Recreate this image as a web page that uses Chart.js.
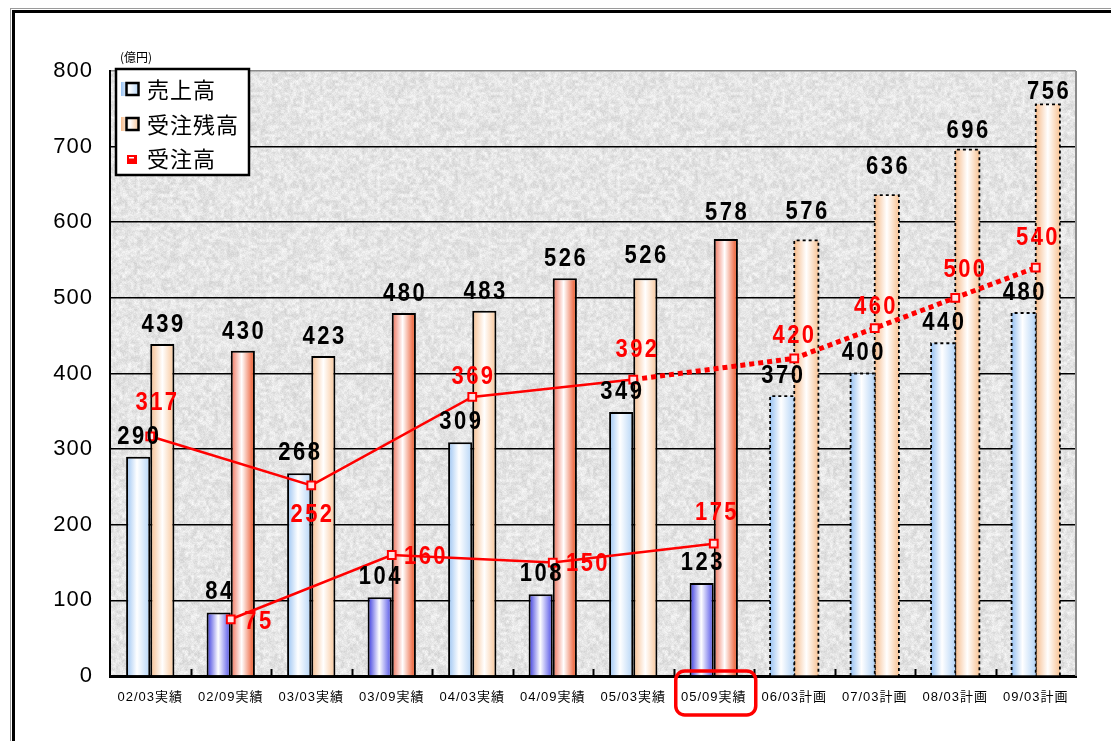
<!DOCTYPE html>
<html>
<head>
<meta charset="utf-8">
<script src="https://cdn.jsdelivr.net/npm/chart.js@4.4.0/dist/chart.umd.min.js"></script>
<style>
  html, body { margin: 0; padding: 0; background: #fff; overflow: hidden; }
  #wrap { width: 1111px; height: 741px; position: relative; }
</style>
</head>
<body>
<div id="wrap"><canvas id="c" width="1111" height="741"></canvas></div>
<script>
// ---- data (億円) ----
const periods = ['02/03実績','02/09実績','03/03実績','03/09実績','04/03実績','04/09実績',
                 '05/03実績','05/09実績','06/03計画','07/03計画','08/03計画','09/03計画'];
const sales   = [290, 84, 268, 104, 309, 108, 349, 123, 370, 400, 440, 480];   // 売上高
const backlog = [439, 430, 423, 480, 483, 526, 526, 578, 576, 636, 696, 756];  // 受注残高
// 受注高: March closings (incl. plan) and September closings as two lines
const ordersMarch = [317, null, 252, null, 369, null, 392, null, 420, 460, 500, 540];
const ordersSept  = [null, 75, null, 160, null, 150, null, 175, null, null, null, null];
const yTickValues = [0, 100, 200, 300, 400, 500, 600, 700, 800];
const unitLabel = '(億円)';
const legendNames = ['売上高', '受注残高', '受注高'];

// ---- style settings ----
const firstPlanIndex = 8;       // plan periods start here (dotted outlines)
const highlightIndex = 7;       // period label framed in red
const FONT = "'Liberation Sans','Noto Sans CJK JP',Arial,sans-serif";
const CJK = "'Noto Sans CJK JP','Liberation Sans',sans-serif";
// label placement for 受注高 values: [dx, dy] relative to the point
const orderLabelShift = [[6,-33],[27,3],[0,30],[33,2],[0,-20],[34,1],[3,-30],[2,-31],[-1,-22],[0,-21],[9,-28],[1,-30]];
// extra lift of some 受注残高 labels
const backlogLabelLift = [0,0,0,0,0,0,3,7,9,9,0,-7];

const palette = {
  salesMar:  [['#98c2f2',0],['#ffffff',0.45],['#b4d4f6',1]],
  salesSep:  [['#3232dc',0],['#ffffff',0.48],['#4a4ae6',1]],
  backMar:   [['#f6bc8c',0],['#ffffff',0.5],['#f8c496',1]],
  backSep:   [['#ee6e56',0],['#ffffff',0.45],['#f07a58',0.85],['#e85a20',1]]
};

function isPlan(i) { return i >= firstPlanIndex; }
function isSept(i) { return i < firstPlanIndex && i % 2 === 1; }

function barGradient(c, kind) {
  const chart = c.chart, xs = chart.scales.x;
  if (!xs || !chart.chartArea) return '#ccc';
  const center = xs.getPixelForValue(c.dataIndex);
  const catW = xs.width / periods.length;
  const barW = catW * 0.6 / 2;
  const left = kind === 'sales' ? center - barW : center;
  const g = chart.ctx.createLinearGradient(left, 0, left + barW, 0);
  let stops;
  if (kind === 'sales') stops = isSept(c.dataIndex) ? palette.salesSep : palette.salesMar;
  else stops = isSept(c.dataIndex) ? palette.backSep : palette.backMar;
  stops.forEach(s => g.addColorStop(s[1], s[0]));
  return g;
}

// granite-like backdrop of the plot area
function makeTexture() {
  const size = 240, cell = 3, n = size / cell;
  const cv = document.createElement('canvas');
  cv.width = cv.height = size;
  const g = cv.getContext('2d');
  const img = g.createImageData(size, size);
  let seed = 987654321;
  const rnd = () => { seed = (seed * 1103515245 + 12345) & 0x7fffffff; return seed / 0x7fffffff; };
  const coarse = [];
  for (let i = 0; i < n * n; i++) coarse.push(rnd());
  const at = (cx, cy) => coarse[((cy + n) % n) * n + ((cx + n) % n)];
  const sm = t => t * t * (3 - 2 * t);
  for (let y = 0; y < size; y++) {
    for (let x = 0; x < size; x++) {
      const fx = x / cell, fy = y / cell;
      const x0 = Math.floor(fx), y0 = Math.floor(fy);
      const tx = sm(fx - x0), ty = sm(fy - y0);
      const a = at(x0, y0), b = at(x0 + 1, y0), c = at(x0, y0 + 1), d = at(x0 + 1, y0 + 1);
      const v = (a * (1 - tx) + b * tx) * (1 - ty) + (c * (1 - tx) + d * tx) * ty;
      let lum = 229 + (v - 0.5) * 28 + (rnd() - 0.5) * 16;
      lum = Math.max(190, Math.min(252, lum));
      const k = (y * size + x) * 4;
      img.data[k] = img.data[k + 1] = img.data[k + 2] = lum;
      img.data[k + 3] = 255;
    }
  }
  g.putImageData(img, 0, 0);
  return cv;
}
const texture = makeTexture();

function drawValue(ctx, text, x, y, color, sizePx, spacing, sy) {
  ctx.save();
  ctx.font = 'bold ' + sizePx + 'px ' + FONT;
  ctx.letterSpacing = spacing + 'px';
  ctx.fillStyle = color;
  ctx.textAlign = 'center';
  ctx.textBaseline = 'middle';
  ctx.translate(x, y);
  ctx.scale(1, sy);
  ctx.fillText(text, spacing / 2, 0);
  ctx.restore();
}

const framePlugin = {
  id: 'frame',
  beforeDraw(chart) {
    const ctx = chart.ctx, a = chart.chartArea;
    ctx.save();
    ctx.fillStyle = '#fff';
    ctx.fillRect(0, 0, chart.width, chart.height);
    // outer frame (top and left visible)
    ctx.strokeStyle = '#9a9a9a'; ctx.lineWidth = 1;
    ctx.strokeRect(10.5, 8.5, 1200, 900);
    ctx.strokeStyle = '#000'; ctx.lineWidth = 3;
    ctx.strokeRect(13.5, 11.5, 1200, 900);
    // plot backdrop
    ctx.fillStyle = ctx.createPattern(texture, 'repeat');
    ctx.fillRect(a.left, a.top, a.right - a.left, a.bottom - a.top);
    ctx.restore();
    ctx.letterSpacing = '1px';
  },
  afterDatasetDraw(chart, args) {
    // dotted outlines of plan bars
    const meta = args.meta;
    if (meta.type !== 'bar') return;
    const ctx = chart.ctx, bottom = chart.chartArea.bottom;
    ctx.save();
    ctx.strokeStyle = '#000';
    ctx.lineWidth = 1.8;
    ctx.setLineDash([3, 3]);
    meta.data.forEach((el, i) => {
      if (!isPlan(i)) return;
      const l = el.x - el.width / 2, r = el.x + el.width / 2, t = el.y;
      ctx.beginPath();
      ctx.moveTo(l, bottom); ctx.lineTo(l, t); ctx.lineTo(r, t); ctx.lineTo(r, bottom);
      ctx.stroke();
    });
    ctx.restore();
  },
  afterDatasetsDraw(chart) {
    const ctx = chart.ctx, a = chart.chartArea, xs = chart.scales.x;
    // plot border right side
    ctx.save();
    ctx.strokeStyle = '#8a8a8a'; ctx.lineWidth = 2;
    ctx.beginPath(); ctx.moveTo(a.right, a.top); ctx.lineTo(a.right, a.bottom); ctx.stroke();
    // inward ticks between periods
    ctx.strokeStyle = '#000'; ctx.lineWidth = 2;
    const catW = xs.width / periods.length;
    for (let k = 1; k < periods.length; k++) {
      const x = Math.round(xs.left + catW * k) + 0.5;
      ctx.beginPath(); ctx.moveTo(x, a.bottom - 7); ctx.lineTo(x, a.bottom); ctx.stroke();
    }
    ctx.restore();

    // value labels
    chart.data.datasets.forEach((ds, di) => {
      const meta = chart.getDatasetMeta(di);
      meta.data.forEach((el, i) => {
        const v = ds.data[i];
        if (v === null || v === undefined) return;
        if (meta.type === 'bar') {
          const lift = ds.label === legendNames[0] ? 20 : 19 + backlogLabelLift[i];
          drawValue(ctx, String(v), el.x, el.y - lift, '#000', 22, 2.5, 1.15);
        }
      });
    });
    chart.data.datasets.forEach((ds, di) => {
      const meta = chart.getDatasetMeta(di);
      if (meta.type !== 'line') return;
      meta.data.forEach((el, i) => {
        const v = ds.data[i];
        if (v === null || v === undefined) return;
        const s = orderLabelShift[i];
        drawValue(ctx, String(v), el.x + s[0], el.y + s[1], '#ff0000', 22, 2.5, 1.15);
      });
    });
  },
  afterDraw(chart) {
    const ctx = chart.ctx, a = chart.chartArea, xs = chart.scales.x;
    ctx.save();
    ctx.letterSpacing = '0px';
    // unit
    ctx.fillStyle = '#000';
    ctx.font = '12px ' + CJK;
    ctx.textAlign = 'left'; ctx.textBaseline = 'middle';
    ctx.fillText(unitLabel, 120, 57);

    // legend
    const L = { x: 116, y: 69, w: 133, h: 106 };
    ctx.fillStyle = '#fff';
    ctx.fillRect(L.x, L.y, L.w, L.h);
    ctx.strokeStyle = '#000'; ctx.lineWidth = 2.5;
    ctx.strokeRect(L.x, L.y, L.w, L.h);
    const rows = [90, 125, 159];
    const swatch = (yc, stops) => {
      const g = ctx.createLinearGradient(121, 0, 139, 0);
      stops.forEach(s => g.addColorStop(s[1], s[0]));
      ctx.fillStyle = g;
      ctx.fillRect(121, yc - 7, 18, 14);
      ctx.strokeStyle = '#000'; ctx.lineWidth = 2.5;
      ctx.strokeRect(126.5, yc - 6, 12, 12);
    };
    swatch(rows[0] - 1, palette.salesMar);
    swatch(rows[1] - 1, palette.backMar);
    ctx.fillStyle = '#ff0000';
    ctx.fillRect(127, rows[2] - 4, 10, 9);
    ctx.fillStyle = '#fff';
    ctx.fillRect(129, rows[2] - 2, 5, 1.5);
    ctx.fillStyle = '#000';
    ctx.font = '22px ' + CJK;
    ctx.letterSpacing = '1px';
    legendNames.forEach((t, k) => ctx.fillText(t, 147, rows[k]));
    ctx.letterSpacing = '0px';

    // red frame round the highlighted period label
    const cx = xs.getPixelForValue(highlightIndex) + 2;
    const w = 80, top = a.bottom - 5, h = 44;
    ctx.strokeStyle = '#ff0000'; ctx.lineWidth = 3.5;
    ctx.beginPath();
    ctx.roundRect(cx - w / 2, top, w, h, 9);
    ctx.stroke();
    ctx.restore();
  }
};

const lineBase = {
  type: 'line',
  label: legendNames[2],
  order: 0,
  borderColor: '#ff0000',
  borderWidth: 2.5,
  spanGaps: true,
  fill: false,
  tension: 0,
  pointStyle: 'rect',
  pointRadius: 5.5,
  pointBorderWidth: 2,
  pointBorderColor: '#ff0000',
  pointBackgroundColor: '#ffe4e4'
};

new Chart(document.getElementById('c'), {
  type: 'bar',
  data: {
    labels: periods,
    datasets: [
      Object.assign({}, lineBase, {
        data: ordersMarch,
        segment: {
          borderDash: c => c.p0DataIndex >= firstPlanIndex - 2 ? [5, 4] : undefined,
          borderWidth: c => c.p0DataIndex >= firstPlanIndex - 2 ? 5 : 2.5
        }
      }),
      Object.assign({}, lineBase, { data: ordersSept }),
      {
        label: legendNames[0],
        data: sales,
        order: 1,
        categoryPercentage: 0.6,
        barPercentage: 1.0,
        backgroundColor: c => barGradient(c, 'sales'),
        borderColor: '#000',
        borderWidth: c => isPlan(c.dataIndex) ? 0 : 2,
        borderSkipped: 'bottom'
      },
      {
        label: legendNames[1],
        data: backlog,
        order: 1,
        categoryPercentage: 0.6,
        barPercentage: 1.0,
        backgroundColor: c => barGradient(c, 'backlog'),
        borderColor: '#000',
        borderWidth: c => isPlan(c.dataIndex) ? 0 : 2,
        borderSkipped: 'bottom'
      }
    ]
  },
  options: {
    responsive: false,
    animation: false,
    devicePixelRatio: 1,
    layout: { padding: { left: 0, top: 71, right: 35, bottom: 0 } },
    plugins: { legend: { display: false }, tooltip: { enabled: false } },
    scales: {
      x: {
        offset: true,
        afterFit: s => { s.height = 65; },
        grid: { display: true, drawOnChartArea: false, drawTicks: false },
        border: { display: true, color: '#000', width: 3 },
        ticks: { color: '#000', padding: 14, maxRotation: 0, autoSkip: false,
                 font: { size: 13, family: FONT } }
      },
      y: {
        min: yTickValues[0],
        max: yTickValues[yTickValues.length - 1],
        afterFit: s => { s.width = 110; },
        afterBuildTicks: s => { s.ticks = yTickValues.map(v => ({ value: v })); },
        grid: {
          color: c => c.tick && c.tick.value === 800 ? '#8a8a8a' : '#000',
          lineWidth: 1.6,
          drawTicks: false
        },
        border: { display: true, color: '#000', width: 2 },
        ticks: { color: '#000', padding: 17, font: { size: 22, family: FONT } }
      }
    }
  },
  plugins: [framePlugin]
});
</script>
</body>
</html>
